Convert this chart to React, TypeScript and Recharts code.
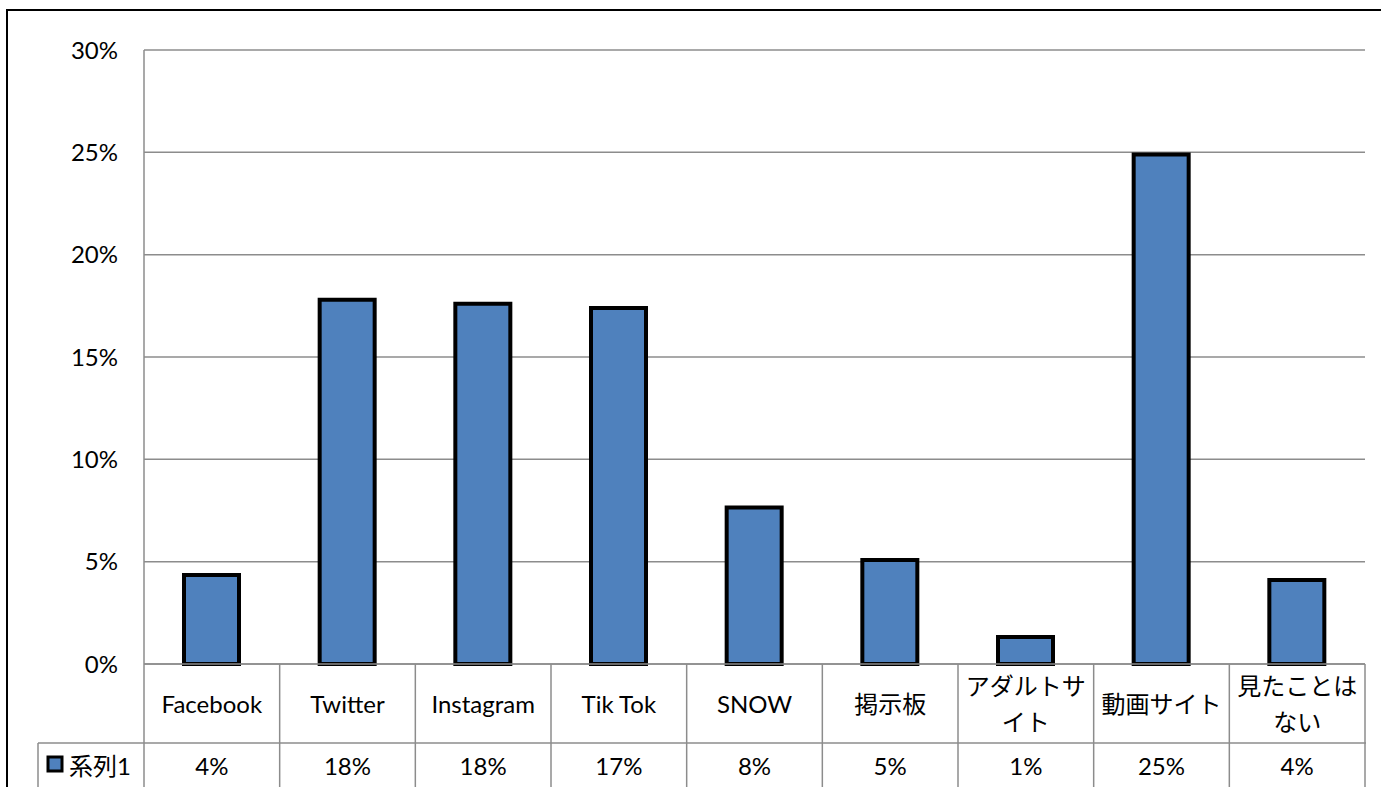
import { BarChart, Bar, XAxis, YAxis, CartesianGrid } from 'recharts';

const categories = ['Facebook', 'Twitter', 'Instagram', 'Tik Tok', 'SNOW', '掲示板', 'アダルトサ\nイト', '動画サイト', '見たことは\nない'];
const values = [4.35, 17.8, 17.6, 17.4, 7.65, 5.08, 1.32, 24.9, 4.1];
const yTicks = [0, 5, 10, 15, 20, 25, 30];
const seriesName = '系列1';

const data = categories.map((c, i) => ({ name: c, value: values[i] }));

const W = 1381;
const H = 787;
const LEFT = 144;
const TOP = 50;
const RIGHT = 16;
const AXIS_H = 123;
const PLOT_BOTTOM = H - AXIS_H;
const BAND = (W - LEFT - RIGHT) / categories.length;
const ROW2 = 743;
const GRID = '#8c8c8c';
const FONT = "Lato, 'Noto Sans CJK JP', sans-serif";
const FS = 24;

const TableTick = (props: any) => {
    const { x, payload, index } = props;
    const lines = String(payload.value).split('\n');
    const left = x - BAND / 2;
    const right = x + BAND / 2;
    const headerMid = (PLOT_BOTTOM + ROW2) / 2;
    return (
        <g>
            <line x1={left} y1={PLOT_BOTTOM} x2={left} y2={H} stroke={GRID} strokeWidth={1.5} />
            {index === categories.length - 1 && (
                <line x1={right} y1={PLOT_BOTTOM} x2={right} y2={H} stroke={GRID} strokeWidth={1.5} />
            )}
            {index === 0 && (
                <g>
                    <line x1={38} y1={ROW2} x2={W - RIGHT + 1} y2={ROW2} stroke={GRID} strokeWidth={1.5} />
                    <line x1={38} y1={ROW2} x2={38} y2={H} stroke={GRID} strokeWidth={1.5} />
                    <rect x={48} y={757} width={14} height={14} fill="#4F81BD" stroke="#000" strokeWidth={3} />
                    <text x={69} y={765} dominantBaseline="central" fontSize={FS} fill="#000" fontFamily={FONT}>
                        {seriesName}
                    </text>
                </g>
            )}
            {lines.map((l, k) => (
                <text
                    key={k}
                    x={x}
                    y={headerMid + (k - (lines.length - 1) / 2) * 36}
                    textAnchor="middle"
                    dominantBaseline="central"
                    fontSize={FS}
                    fill="#000"
                    fontFamily={FONT}
                >
                    {l}
                </text>
            ))}
            <text x={x} y={765} textAnchor="middle" dominantBaseline="central" fontSize={FS} fill="#000" fontFamily={FONT}>
                {Math.round(values[index])}%
            </text>
        </g>
    );
};

const App = () => {
    return (
        <div style={{ position: 'absolute', left: 0, top: 0, width: W, height: H, background: '#fff', overflow: 'hidden' }}>
            <div style={{ position: 'absolute', left: 6, top: 9, width: W, height: H, border: '2px solid #000', boxSizing: 'border-box' }} />
            <div style={{ position: 'absolute', left: 0, top: 0 }}>
                <BarChart
                    width={W}
                    height={H}
                    data={data}
                    margin={{ top: TOP, right: RIGHT, left: 0, bottom: 0 }}
                    barSize={55}
                >
                    <CartesianGrid vertical={false} stroke={GRID} strokeWidth={1.5} />
                    <XAxis
                        dataKey="name"
                        height={AXIS_H}
                        interval={0}
                        tickLine={false}
                        axisLine={{ stroke: GRID, strokeWidth: 1.5 }}
                        tick={<TableTick />}
                    />
                    <YAxis
                        width={LEFT}
                        domain={[0, 30]}
                        ticks={yTicks}
                        tickFormatter={(v) => `${v}%`}
                        tickLine={false}
                        tickSize={0}
                        tickMargin={26}
                        axisLine={{ stroke: GRID, strokeWidth: 1.5 }}
                        tick={{ fill: '#000', fontSize: FS, fontFamily: FONT }}
                    />
                    <Bar dataKey="value" fill="#4F81BD" stroke="#000" strokeWidth={4} isAnimationActive={false} />
                </BarChart>
            </div>
        </div>
    );
};

export default App;
